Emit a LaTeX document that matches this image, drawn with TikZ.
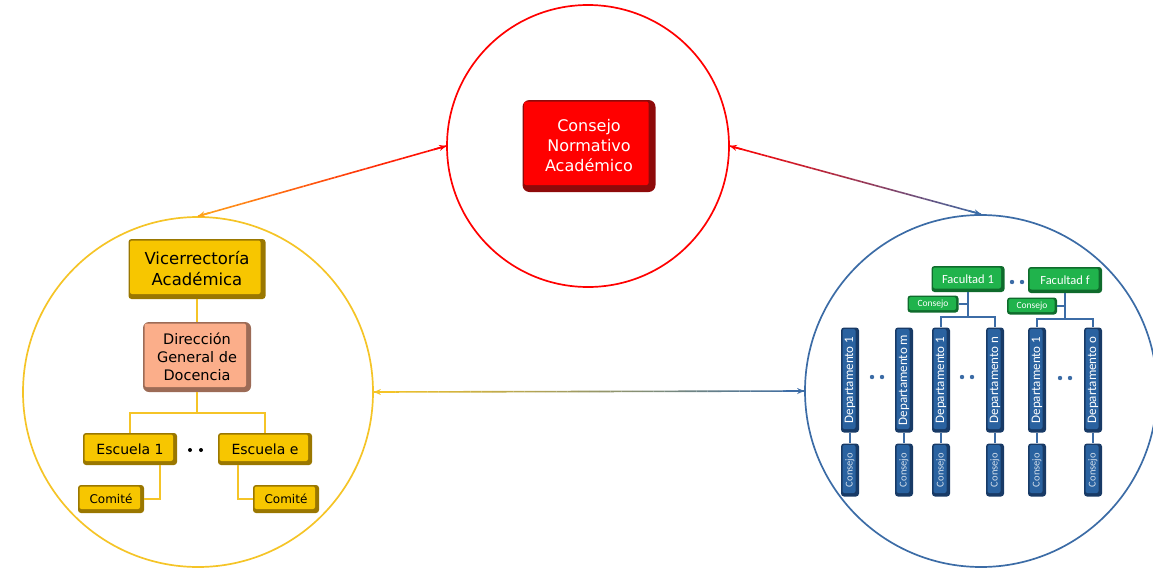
\documentclass[tikz,border=0pt]{standalone}
\usepackage{fontspec}
\setmainfont{DejaVu Sans}
\newfontfamily\calfont{Carlito}
\usetikzlibrary{calc,arrows.meta}

\definecolor{cnared}{HTML}{FF0000}
\definecolor{cnadark}{HTML}{8E0A0A}
\definecolor{goldface}{HTML}{F7C600}
\definecolor{golddark}{HTML}{9A7700}
\definecolor{goldline}{HTML}{F5C427}
\definecolor{salmonface}{HTML}{FBAE8A}
\definecolor{salmondark}{HTML}{9C6B56}
\definecolor{facgreen}{HTML}{20B34C}
\definecolor{facdark}{HTML}{0F6B2C}
\definecolor{depblue}{HTML}{2A62A0}
\definecolor{depdark}{HTML}{183A66}
\definecolor{circblue}{HTML}{3C6CA6}
\definecolor{arroworange}{HTML}{FFA21A}

\tikzset{
  bevel depth/.store in=\bevdepth, bevel depth=3.5pt,
  bevel/.style 2 args={fill=#2, rounded corners=3pt, inner sep=0pt, align=center,
    path picture={\fill[#1, rounded corners=2pt]
      ([shift={(1.5pt,-1.5pt)}]path picture bounding box.north west) rectangle
      ([shift={(-\bevdepth,\bevdepth)}]path picture bounding box.south east);}},
  ring/.style={circle, draw=#1, line width=1.7pt, inner sep=0pt},
  goldbox/.style={bevel={goldface}{golddark}},
  goldlink/.style={goldline, line width=1.8pt},
  bluelink/.style={circblue, line width=1.8pt},
  facbox/.style={bevel={facgreen}{facdark}, text=white},
  dep/.style={bevel={depblue}{depdark}, text=white, minimum width=18pt,
    font=\calfont\fontsize{13}{13}\selectfont},
}

\begin{document}
\begin{tikzpicture}[x=1pt, y=-1pt]
    \useasboundingbox (0,0) rectangle (1153,568);
    % circles
    \node[ring=cnared, minimum size=282pt] (cna) at (588,146) {};
    \node[ring=goldline, minimum size=350pt] (vice) at (198,392) {};
    \node[ring=circblue, minimum size=352pt] (facs) at (981,391) {};
    % consejo normativo
    \node[bevel={cnared}{cnadark}, bevel depth=7pt, rounded corners=7pt, minimum width=133pt, minimum height=92pt,
      text=white, font=\fontsize{16}{20}\selectfont] (cnabox) at (589,146) {Consejo\\Normativo\\Acad\'emico};
    % vicerrectoria
    \node[goldbox, bevel depth=5pt, minimum width=137pt, minimum height=60pt, font=\fontsize{16.5}{21}\selectfont]
      (vicebox) at (197,269) {Vicerrector\'ia\\Acad\'emica};
    \node[bevel={salmonface}{salmondark}, bevel depth=5pt, rounded corners=6pt, minimum width=108pt, minimum height=70pt,
      font=\fontsize{14.5}{18}\selectfont] (dgd) at (197,357) {Direcci\'on\\General de\\Docencia};
    \node[goldbox, bevel depth=4pt, minimum width=94pt, minimum height=32pt, font=\fontsize{14}{14}\selectfont]
      (esc1) at (130,449) {Escuela 1};
    \node[goldbox, bevel depth=4pt, minimum width=94pt, minimum height=32pt, font=\fontsize{14}{14}\selectfont]
      (esce) at (265,449) {Escuela e};
    \node[goldbox, bevel depth=4pt, minimum width=66pt, minimum height=28pt, font=\fontsize{12}{12}\selectfont]
      (com1) at (111,499) {Comit\'e};
    \node[goldbox, bevel depth=4pt, minimum width=66pt, minimum height=28pt, font=\fontsize{12}{12}\selectfont]
      (come) at (286,499) {Comit\'e};
    \draw[goldlink] (vicebox) -- (dgd);
    \draw[goldlink] (dgd.south) -- ++(0,21) -| (esc1.north);
    \draw[goldlink] (dgd.south) -- ++(0,21) -| (esce.north);
    \draw[goldlink] ([xshift=30pt]esc1.south) |- (com1.east);
    \draw[goldlink] ([xshift=-27pt]esce.south) |- (come.west);
    \foreach \x in {190,201}
      \fill (\x,450) circle (2pt);
    % facultades
    \node[facbox, minimum width=73pt, minimum height=26pt, font=\calfont\fontsize{12.5}{12.5}\selectfont]
      (fac1) at (968,279) {Facultad 1};
    \node[facbox, minimum width=74pt, minimum height=26pt, font=\calfont\fontsize{12.5}{12.5}\selectfont]
      (facf) at (1065,280) {Facultad f};
    \node[facbox, bevel depth=2.5pt, minimum width=51pt, minimum height=17pt, font=\calfont\fontsize{9.5}{9.5}\selectfont]
      (cf1) at (933,304) {Consejo};
    \node[facbox, bevel depth=2.5pt, minimum width=50pt, minimum height=17pt, font=\calfont\fontsize{9.5}{9.5}\selectfont]
      (cff) at (1032,306) {Consejo};
    \foreach \n/\x/\lab in {1/850/Departamento 1, 2/904/Departamento m, 3/941/Departamento 1,
                            4/995/Departamento n, 5/1037/Departamento 1, 6/1093/Departamento o}
    {   \node[dep, minimum height=105pt] (dep\n) at (\x,380) {\rotatebox{90}{\lab}};
        \node[dep, minimum height=53pt, text=white!80!depblue, font=\calfont\fontsize{10.5}{10.5}\selectfont]
          (con\n) at (\x,470) {\rotatebox{90}{Consejo}};
        \draw[bluelink] (dep\n) -- (con\n);
    }
    \draw[bluelink] (fac1.south) -- ++(0,25) -| (dep3.north);
    \draw[bluelink] (fac1.south) -- ++(0,25) -| (dep4.north);
    \draw[bluelink] (cf1.east) -- (fac1.south |- cf1.east);
    \draw[bluelink] (facf.south) -- ++(0,26) -| (dep5.north);
    \draw[bluelink] (facf.south) -- ++(0,26) -| (dep6.north);
    \draw[bluelink] (cff.east) -- (facf.south |- cff.east);
    \foreach \x/\y in {1012/282, 1022/282, 872/377, 882/377, 962/377, 972/377, 1060/378, 1070/378}
      \fill[circblue] (\x,\y) circle (2.2pt);
    % links between circles
    \foreach \s/\t/\cs/\ct in {cna.west/vice.north/cnared/arroworange,
                               cna.east/facs.north/cnared/circblue,
                               vice.east/facs.west/goldline/circblue}
    {   \foreach \i in {0,...,39}
        {   \pgfmathsetmacro\pa{\i/40}
            \pgfmathsetmacro\pb{(\i+1)/40}
            \pgfmathtruncatemacro\mix{100-\i*2.5}
            \draw[line width=1.6pt, \cs!\mix!\ct] ($(\s)!\pa!(\t)$) -- ($(\s)!\pb!(\t)$);
        }
        \draw[-{Stealth[length=7pt,width=6pt]}, line width=1.6pt, \cs] ($(\s)!0.05!(\t)$) -- (\s);
        \draw[-{Stealth[length=7pt,width=6pt]}, line width=1.6pt, \ct] ($(\s)!0.95!(\t)$) -- (\t);
    }
\end{tikzpicture}
\end{document}
